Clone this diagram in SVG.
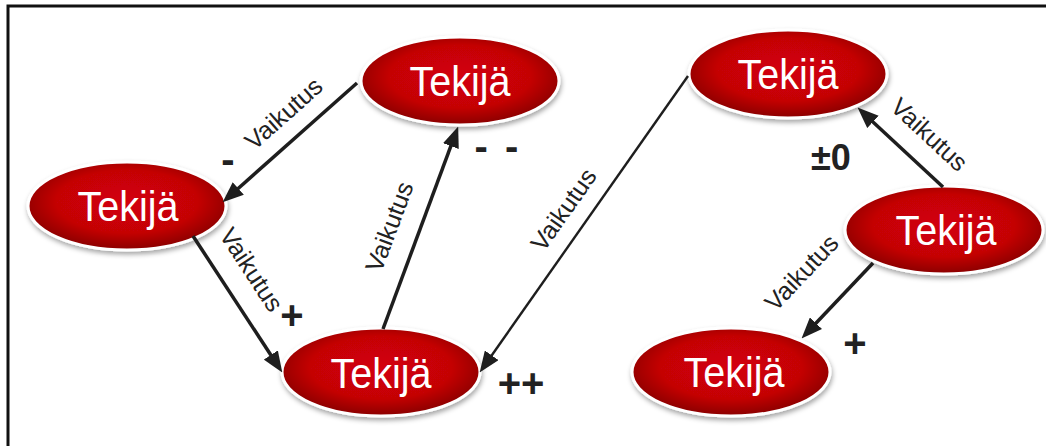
<svg xmlns="http://www.w3.org/2000/svg" width="1046" height="446" viewBox="0 0 1046 446">
  <style>
    .node-shape { fill: url(#redGrad); stroke: #ffffff; stroke-width: 3; filter: url(#shadow); }
    .node-text { font-family: "Liberation Sans", Arial, sans-serif; font-size: 43px; fill: #ffffff; text-anchor: middle; }
    .edge { stroke: #1e1e1e; stroke-width: 3.5; fill: none; marker-end: url(#arrow); }
    .edge-thin { stroke: #1e1e1e; stroke-width: 2.4; fill: none; marker-end: url(#arrow); }
    .elabel { font-family: "Liberation Sans", Arial, sans-serif; font-size: 25px; fill: #222222; text-anchor: middle; }
    .sign { font-family: "Liberation Sans", Arial, sans-serif; font-weight: bold; font-size: 40px; fill: #222222; text-anchor: middle; }
  </style>
  <defs>
    <radialGradient id="redGrad" cx="50%" cy="45%" r="55%">
      <stop offset="0%" stop-color="#d30008"/>
      <stop offset="65%" stop-color="#c40006"/>
      <stop offset="100%" stop-color="#8a0000"/>
    </radialGradient>
    <filter id="shadow" x="-20%" y="-30%" width="140%" height="170%">
      <feGaussianBlur in="SourceAlpha" stdDeviation="2.5"/>
      <feOffset dx="1" dy="3" result="b"/>
      <feFlood flood-color="#000000" flood-opacity="0.35"/>
      <feComposite in2="b" operator="in"/>
      <feMerge>
        <feMergeNode/>
        <feMergeNode in="SourceGraphic"/>
      </feMerge>
    </filter>
    <marker id="arrow" viewBox="0 0 20 16" refX="8" refY="8" markerWidth="21" markerHeight="17" markerUnits="userSpaceOnUse" orient="auto">
      <path d="M0,0 L20,8 L0,16 z" fill="#1e1e1e"/>
    </marker>
  </defs>

  <rect width="1046" height="446" fill="#ffffff"/>
  <path d="M8,446 V6 H1046" stroke="#111111" stroke-width="3" fill="none"/>

  <g id="node-a">
    <ellipse class="node-shape" cx="460" cy="81" rx="99" ry="44"/>
    <text class="node-text" transform="translate(460,96) scale(0.92,1)">Tekijä</text>
  </g>
  <g id="node-b">
    <ellipse class="node-shape" cx="127" cy="206" rx="99" ry="44"/>
    <text class="node-text" transform="translate(128,221) scale(0.92,1)">Tekijä</text>
  </g>
  <g id="node-c">
    <ellipse class="node-shape" cx="381" cy="372" rx="99" ry="44"/>
    <text class="node-text" transform="translate(381,388) scale(0.92,1)">Tekijä</text>
  </g>
  <g id="node-d">
    <ellipse class="node-shape" cx="788" cy="74" rx="99" ry="44"/>
    <text class="node-text" transform="translate(788,89) scale(0.92,1)">Tekijä</text>
  </g>
  <g id="node-e">
    <ellipse class="node-shape" cx="944" cy="230" rx="99" ry="44"/>
    <text class="node-text" transform="translate(946,245) scale(0.92,1)">Tekijä</text>
  </g>
  <g id="node-f">
    <ellipse class="node-shape" cx="731" cy="372" rx="99" ry="44"/>
    <text class="node-text" transform="translate(734,387) scale(0.92,1)">Tekijä</text>
  </g>

  <g id="connectors">
    <line class="edge" x1="357" y1="83" x2="232" y2="194"/>
    <line class="edge" x1="193" y1="236" x2="275.4" y2="362"/>
    <line class="edge" x1="383" y1="329" x2="453.8" y2="138.2"/>
    <line class="edge-thin" x1="688" y1="76" x2="486.9" y2="362.2"/>
    <line class="edge" x1="943" y1="187" x2="866.8" y2="116.2"/>
    <line class="edge" x1="873" y1="263" x2="810.2" y2="329.3"/>

    <text class="elabel" transform="translate(284,114) rotate(-41.6)" y="8">Vaikutus</text>
    <text class="elabel" transform="translate(251,270) rotate(56.8)" y="8">Vaikutus</text>
    <text class="elabel" transform="translate(390,227) rotate(-69.6)" y="8">Vaikutus</text>
    <text class="elabel" transform="translate(564,210) rotate(-54.9)" y="8">Vaikutus</text>
    <text class="elabel" transform="translate(929,135) rotate(42.9)" y="8">Vaikutus</text>
    <text class="elabel" transform="translate(802,273) rotate(-46.6)" y="8">Vaikutus</text>

    <text class="sign" x="228" y="173">-</text>
    <text class="sign" x="292" y="329">+</text>
    <text class="sign" x="498" y="160" letter-spacing="3">- -</text>
    <text class="sign" x="521" y="397">++</text>
    <text class="sign" x="831" y="170" style="font-size:36px">±0</text>
    <text class="sign" x="855" y="357">+</text>
  </g>
</svg>
